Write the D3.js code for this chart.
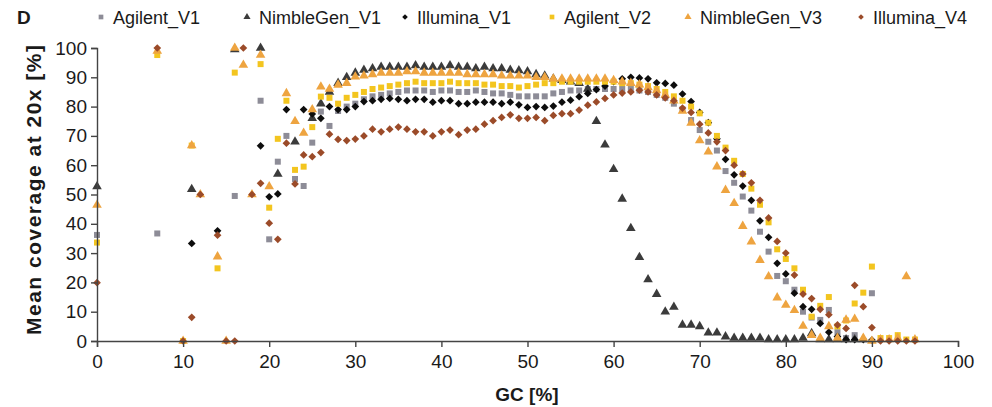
<!DOCTYPE html>
<html>
<head>
<meta charset="utf-8">
<script src="https://cdn.jsdelivr.net/npm/d3@7"></script>
<style>
  body { margin: 0; background: #fff; }
  svg text { font-family: "Liberation Sans", Arial, sans-serif; fill: #1a1a1a; }
</style>
</head>
<body>
<div id="chart"></div>
<script>
// [GC %, mean coverage at 20x %]
const agilentV1 = [[0,36.2],[7,36.7],[16,49.5],[19,82],[20,34.7],[21,61.2],[22,70],[23,55.3],[24,52.9],[25,67.7],[26,78.3],[27,73.4],[28,78.5],[29,80],[30,81],[31,82.5],[32,83.5],[33,84],[34,84.5],[35,85],[36,85.5],[37,85.5],[38,85.5],[39,85],[40,85.5],[41,85.5],[42,85],[43,85],[44,85.5],[45,85],[46,84.5],[47,84.5],[48,84],[49,83.5],[50,83.5],[51,83.5],[52,83.5],[53,84.5],[54,85],[55,85.5],[56,85.5],[57,86],[58,86],[59,86],[60,86],[61,86],[62,86],[63,85.5],[64,85],[65,84],[66,83],[67,81],[68,79],[69,75.4],[70,72],[71,68],[72,65],[73,58],[74,54],[75,49.3],[76,44.5],[77,37.3],[78,30.5],[79,22.2],[80,20.4],[81,17.5],[82,10],[83,8],[84,7.2],[85,10.6],[86,3],[87,1],[88,2],[90,16.3]];

const nimbleGenV1 = [[0,52.7],[11,51.8],[16,99.5],[19,100],[21,57],[23,68],[25,76],[26,81],[27,85],[28,88],[29,90],[30,91.5],[31,92.5],[32,93],[33,93.5],[34,93.5],[35,93.5],[36,93.5],[37,94],[38,93.5],[39,93.5],[40,93.5],[41,94],[42,93.5],[43,93.5],[44,93],[45,93.5],[46,93],[47,93],[48,92.5],[49,92.3],[50,92],[51,91],[52,90.5],[53,89.5],[54,89],[55,88.5],[56,88],[57,86],[58,75],[59,67],[60,58.6],[61,48.5],[62,38.5],[63,28.6],[64,21],[65,16],[66,10],[67,11.6],[68,5.5],[69,5.5],[70,5],[71,2.8],[72,2.8],[73,1.5],[74,1],[75,1],[76,1],[77,1],[78,0.5],[79,0.5],[80,0.5],[81,0.5],[82,1],[83,2.6],[84,0.5],[85,0.5],[86,0.5],[87,0.5],[88,0.5],[89,0.5]];

const illuminaV1 = [[11,33.3],[14,37.6],[19,66.6],[20,49.2],[21,50.2],[22,79],[24,79],[25,77.5],[26,76],[27,80],[28,79],[29,79],[30,80],[31,81.7],[32,82],[33,82.5],[34,82.8],[35,82.5],[36,82],[37,82.5],[38,82.5],[39,81.5],[40,82],[41,82],[42,81],[43,81],[44,81.5],[45,81.5],[46,81.5],[47,81],[48,81.5],[49,80.6],[50,79.7],[51,80],[52,79.7],[53,80.2],[54,81.5],[55,82.2],[56,83.4],[57,84.5],[58,85.8],[59,87],[60,88.5],[61,89.5],[62,90],[63,89.8],[64,89.5],[65,88.1],[66,87.9],[67,87.3],[68,84.3],[69,81.7],[70,78],[71,74.5],[72,69],[73,62],[74,56.7],[75,52.9],[76,48],[77,41],[78,35.4],[79,26.5],[80,22.9],[81,16.3],[82,11.7],[83,10.8],[84,6],[85,3],[86,1.5],[87,0.5],[88,0.5],[89,0.5],[90,0.3]];

const agilentV2 = [[0,33.6],[7,97.6],[10,0],[11,66.7],[14,24.8],[16,91.6],[19,94.5],[20,45.5],[21,69],[22,82],[23,58.4],[24,59.5],[25,73],[26,83.4],[27,83],[28,81],[29,83],[30,84],[31,85],[32,86],[33,86.5],[34,87],[35,87.5],[36,88],[37,88.5],[38,88],[39,88],[40,88],[41,88.5],[42,88],[43,88],[44,88],[45,87.5],[46,87.5],[47,87],[48,87],[49,86.5],[50,87],[51,87.5],[52,88],[53,88],[54,88.5],[55,88.5],[56,88.5],[57,88.5],[58,88.5],[59,88.5],[60,88.5],[61,88],[62,88],[63,87.5],[64,87],[65,86],[66,85],[67,83.5],[68,82],[69,80],[70,77.7],[71,74.5],[72,70],[73,66],[74,61.5],[75,57],[76,52],[77,46.5],[78,40.5],[79,31.3],[80,28],[81,24.8],[82,17.5],[83,8.3],[84,12],[85,15],[86,5],[87,7],[88,12.8],[89,16.5],[90,25.4],[91,1],[92,1],[93,2],[94,0.5],[95,0.5]];

const nimbleGenV3 = [[0,46.4],[7,99],[10,0],[11,66.7],[12,50],[14,28.8],[15,0],[16,100],[17,94.2],[18,50],[19,97.6],[20,52.7],[22,84.5],[23,75],[24,71],[25,79],[26,86.8],[27,86],[28,87.4],[29,88],[30,90.2],[31,90.5],[32,91],[33,91.5],[34,91.5],[35,91.5],[36,92],[37,92],[38,91.5],[39,91.5],[40,91.5],[41,91.5],[42,91.5],[43,91],[44,91],[45,91],[46,91],[47,90.5],[48,90.5],[49,90.5],[50,90.5],[51,90],[52,90],[53,89.5],[54,89.5],[55,89.5],[56,89.5],[57,89.5],[58,89.5],[59,89.5],[60,89],[61,88.5],[62,88],[63,87.5],[64,86.5],[65,85.5],[66,84],[67,82],[68,78.5],[69,74.4],[70,68.4],[71,64.6],[72,59.5],[73,51.5],[74,47],[75,39.2],[76,33.9],[77,27.6],[78,22],[79,14.8],[80,12.3],[81,10.5],[82,5.1],[83,2],[84,1],[85,5],[86,1],[87,7.2],[88,7.5],[89,1],[90,0],[91,0.5],[92,0.5],[93,1],[94,22],[95,0.5]];

const illuminaV4 = [[0,19.9],[7,100],[10,0],[11,8.1],[12,50],[14,36.1],[15,0],[16,0],[17,100],[18,50],[19,53.8],[20,40.2],[21,34.7],[22,67.5],[23,53.6],[24,63.5],[25,62.9],[26,64.3],[27,70.6],[28,68.8],[29,68.4],[30,68.9],[31,70],[32,72.3],[33,71.4],[34,72.3],[35,73],[36,72.3],[37,71.4],[38,71.4],[39,70],[40,71.4],[41,72],[42,70.4],[43,72],[44,72.3],[45,74],[46,75.2],[47,76.3],[48,77.2],[49,76],[50,76],[51,76.3],[52,75.2],[53,77],[54,77.6],[55,77.6],[56,78.8],[57,80.5],[58,81.6],[59,82.8],[60,84],[61,84.6],[62,85],[63,85.6],[64,85],[65,84],[66,83],[67,82],[68,79.5],[69,78],[70,74],[71,71],[72,68],[73,65],[74,60],[75,57],[76,54],[77,48],[78,42],[79,34],[80,30],[81,22.5],[82,16],[83,14.5],[84,10.8],[85,9],[86,5.5],[87,4.3],[88,19],[89,11.7],[90,4.6],[91,0],[92,0],[93,0],[94,0],[95,0]];

const seriesNames = ["Agilent_V1", "NimbleGen_V1", "Illumina_V1", "Agilent_V2", "NimbleGen_V3", "Illumina_V4"];
const seriesData = [agilentV1, nimbleGenV1, illuminaV1, agilentV2, nimbleGenV3, illuminaV4];
const xTicks = d3.range(0, 101, 10);
const yTicks = d3.range(0, 101, 10);

const colors = ["#8d8c97", "#3b3b3b", "#0d0d0d", "#f3c51f", "#eea440", "#9b4b29"];
// diamonds are squares turned by 45 degrees, like the Excel markers
const shapes = ["square", "triangle", "diamond", "square", "triangle", "diamond"];

function markerPath(shape, size) {
  const type = shape === "triangle" ? d3.symbolTriangle : d3.symbolSquare;
  return d3.symbol().type(type).size(size)();
}
function markerTransform(shape) {
  return shape === "diamond" ? " rotate(45)" : "";
}

const width = 992, height = 407;
const svg = d3.select("#chart").append("svg").attr("width", width).attr("height", height);

const x = d3.scaleLinear().domain([0, 100]).range([97, 958]);
const y = d3.scaleLinear().domain([0, 100]).range([341, 48]);

// points, later series on top
seriesData.forEach((pts, i) => {
  const size = shapes[i] === "triangle" ? 40 : shapes[i] === "diamond" ? 30 : 36;
  svg.append("g")
    .selectAll("path")
    .data(pts)
    .enter().append("path")
    .attr("d", markerPath(shapes[i], size))
    .attr("transform", d => `translate(${x(d[0])},${y(d[1])})` + markerTransform(shapes[i]))
    .attr("fill", colors[i]);
});

// axes
const xAxis = svg.append("g").attr("transform", "translate(0,341)")
  .call(d3.axisBottom(x).tickValues(xTicks).tickSizeOuter(0).tickSize(6).tickPadding(8));
const yAxis = svg.append("g").attr("transform", "translate(97,0)")
  .call(d3.axisLeft(y).tickValues(yTicks).tickSizeOuter(0).tickSize(6).tickPadding(4));

[xAxis, yAxis].forEach(ax => {
  ax.selectAll("path, line").attr("stroke", "#444").attr("stroke-width", 1.4);
  ax.selectAll("text").attr("font-size", "19px").attr("fill", "#1a1a1a")
    .style("font-family", "'Liberation Sans', Arial, sans-serif");
});

// titles
svg.append("text").attr("x", 527).attr("y", 401).attr("text-anchor", "middle")
  .attr("font-size", "19px").attr("font-weight", "bold").text("GC [%]");
svg.append("text").attr("transform", "translate(41,190) rotate(-90)").attr("text-anchor", "middle")
  .attr("font-size", "21px").attr("font-weight", "bold")
  .attr("textLength", 290).attr("lengthAdjust", "spacing")
  .text("Mean coverage at 20x [%]");
svg.append("text").attr("x", 17).attr("y", 24)
  .attr("font-size", "19px").attr("font-weight", "bold").text("D");

// legend
const legendX = [101, 247, 405, 552, 688, 861];
const legend = svg.append("g");
seriesNames.forEach((name, i) => {
  const row = legend.append("g").attr("transform", `translate(${legendX[i]},17)`);
  row.append("path").attr("d", markerPath(shapes[i], shapes[i] === "diamond" ? 16 : 22))
    .attr("transform", markerTransform(shapes[i]))
    .attr("fill", colors[i]);
  row.append("text").attr("x", 12).attr("y", 6.5).attr("font-size", "18px").text(name);
});
</script>
</body>
</html>
